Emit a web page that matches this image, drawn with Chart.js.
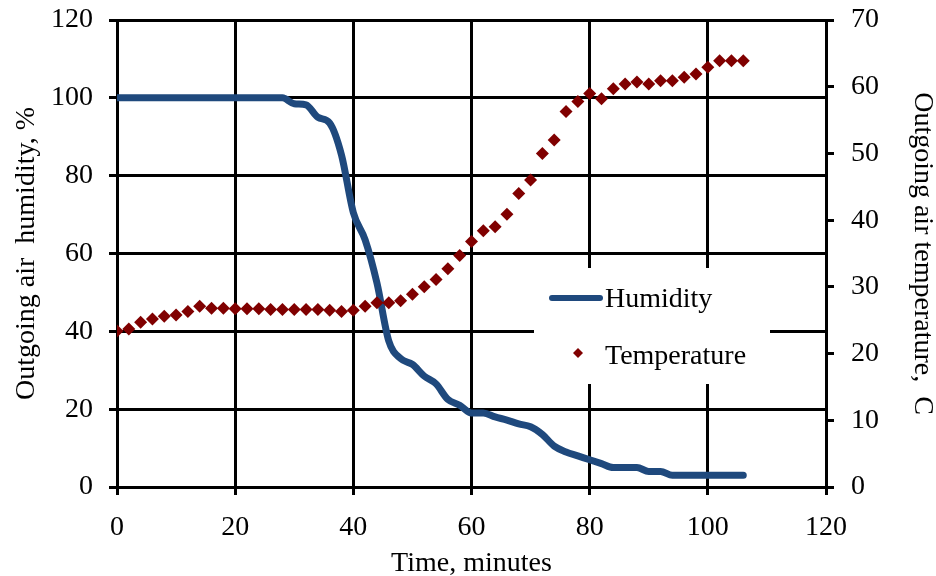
<!DOCTYPE html>
<html>
<head>
<meta charset="utf-8">
<script src="https://cdn.jsdelivr.net/npm/chart.js@4/dist/chart.umd.min.js"></script>
<style>
    body { margin: 0; background: #fff; }
    #wrap { width: 936px; height: 576px; }
</style>
</head>
<body>
<div id="wrap"><canvas id="dryChart" width="936" height="576"></canvas></div>
<script>
// Sampling times, minutes
const minutes = [
    0, 2, 4, 6, 8, 10, 12, 14, 16, 18, 20, 22, 24, 26, 28, 30, 32, 34,
    36, 38, 40, 42, 44, 46, 48, 50, 52, 54, 56, 58, 60, 62, 64, 66, 68, 70,
    72, 74, 76, 78, 80, 82, 84, 86, 88, 90, 92, 94, 96, 98, 100, 102, 104, 106
];

// Outgoing air humidity, %
const humidity = [
    100, 100, 100, 100, 100, 100, 100, 100, 100, 100, 100, 100, 100, 100, 100, 98.5, 98.2, 95,
    93.5, 85.3, 70.5, 63.5, 52.4, 37.5, 33, 31.5, 28.5, 26.5, 22.5, 21, 19, 19, 18, 17.2, 16.2, 15.5,
    13.5, 10.5, 9, 8, 7, 6, 5, 5, 5, 4, 4, 3, 3, 3, 3, 3, 3, 3
];

// Outgoing air temperature, C
const temperature = [
    23.4, 23.7, 24.7, 25.2, 25.6, 25.8, 26.3, 27.1, 26.8, 26.8, 26.7, 26.7, 26.7, 26.6, 26.6, 26.6, 26.6, 26.6,
    26.5, 26.3, 26.5, 27.1, 27.6, 27.6, 27.9, 28.9, 30.0, 31.1, 32.7, 34.7, 36.8, 38.4, 39.0, 40.9, 44.0, 46.0,
    50.0, 52.0, 56.3, 57.8, 59.0, 58.2, 59.7, 60.4, 60.7, 60.4, 60.9, 60.9, 61.4, 61.9, 62.9, 63.9, 63.9, 63.9
];

const xTicks = [0, 20, 40, 60, 80, 100, 120];
const humidityTicks = [0, 20, 40, 60, 80, 100, 120];
const temperatureTicks = [0, 10, 20, 30, 40, 50, 60, 70];

const FONT = "'Liberation Serif', 'Times New Roman', serif";

// Legend drawn inside the plot, on a white box over the grid
const innerLegend = {
    id: 'innerLegend',
    beforeDatasetsDraw(chart) {
        const ctx = chart.ctx;
        const sets = chart.data.datasets;
        ctx.save();
        ctx.fillStyle = '#fff';
        ctx.fillRect(534, 268, 236, 116);

        ctx.font = '28px ' + FONT;
        ctx.fillStyle = '#000';
        ctx.textBaseline = 'middle';

        // Humidity line sample
        ctx.strokeStyle = sets[0].borderColor;
        ctx.lineWidth = 6;
        ctx.lineCap = 'round';
        ctx.beginPath();
        ctx.moveTo(552, 298);
        ctx.lineTo(600, 298);
        ctx.stroke();
        ctx.fillText(sets[0].label, 605, 300);

        // Temperature diamond
        ctx.fillStyle = sets[1].backgroundColor;
        ctx.beginPath();
        ctx.moveTo(578, 348);
        ctx.lineTo(583, 353);
        ctx.lineTo(578, 358);
        ctx.lineTo(573, 353);
        ctx.closePath();
        ctx.fill();
        ctx.fillStyle = '#000';
        ctx.fillText(sets[1].label, 605, 357);
        ctx.restore();
    }
};

// Fixed axis sizes so the plot area sits where the original has it
function fitVertical(width) {
    return (scale) => {
        scale.width = width;
        scale.paddingTop = 0;
        scale.paddingBottom = 0;
    };
}

const ctx = document.getElementById('dryChart');

new Chart(ctx, {
    type: 'line',
    data: {
        datasets: [
            {
                label: 'Humidity',
                data: minutes.map((m, i) => ({ x: m, y: humidity[i] })),
                borderColor: '#1F497D',
                backgroundColor: '#1F497D',
                borderWidth: 7,
                borderCapStyle: 'round',
                borderJoinStyle: 'round',
                pointRadius: 0,
                cubicInterpolationMode: 'monotone',
                yAxisID: 'y',
                order: 1
            },
            {
                label: 'Temperature',
                data: minutes.map((m, i) => ({ x: m, y: temperature[i] })),
                showLine: false,
                borderColor: '#800000',
                backgroundColor: '#800000',
                pointStyle: 'rectRot',
                pointRadius: 6.5,
                pointBorderWidth: 0,
                yAxisID: 'y1',
                order: 0
            }
        ]
    },
    options: {
        responsive: false,
        animation: false,
        layout: { padding: { top: 20, left: 0, right: 0, bottom: 0 } },
        plugins: {
            legend: { display: false },
            tooltip: { enabled: false }
        },
        scales: {
            x: {
                type: 'linear',
                min: 0,
                max: 120,
                afterBuildTicks: (scale) => { scale.ticks = xTicks.map(v => ({ value: v })); },
                afterFit: (scale) => {
                    scale.height = 89;
                    scale.paddingLeft = 0;
                    scale.paddingRight = 0;
                },
                grid: { color: '#000', lineWidth: 3, tickLength: 8, tickColor: '#000' },
                border: { color: '#000', width: 3 },
                ticks: { color: '#000', font: { family: FONT, size: 28 }, padding: 16, maxRotation: 0 },
                title: {
                    display: true,
                    text: 'Time, minutes',
                    color: '#000',
                    font: { family: FONT, size: 28, lineHeight: 1 },
                    padding: { top: 0, bottom: -2 }
                }
            },
            y: {
                position: 'left',
                min: 0,
                max: 120,
                afterBuildTicks: (scale) => { scale.ticks = humidityTicks.map(v => ({ value: v })); },
                afterFit: fitVertical(117),
                grid: { color: '#000', lineWidth: 3, tickLength: 8, tickColor: '#000' },
                border: { color: '#000', width: 3 },
                ticks: { color: '#000', font: { family: FONT, size: 28 }, padding: 16 },
                title: {
                    display: true,
                    text: 'Outgoing air  humidity, %',
                    color: '#000',
                    font: { family: FONT, size: 28, lineHeight: 1 },
                    padding: { top: 13, bottom: 0 }
                }
            },
            y1: {
                position: 'right',
                min: 0,
                max: 70,
                afterBuildTicks: (scale) => { scale.ticks = temperatureTicks.map(v => ({ value: v })); },
                afterFit: fitVertical(110),
                grid: { drawOnChartArea: false, color: '#000', lineWidth: 3, tickLength: 8, tickColor: '#000' },
                border: { color: '#000', width: 3 },
                ticks: { color: '#000', font: { family: FONT, size: 28 }, padding: 17 },
                title: {
                    display: true,
                    text: 'Outgoing air temperature,  C',
                    color: '#000',
                    font: { family: FONT, size: 28, lineHeight: 1 },
                    padding: { top: 0, bottom: 0 }
                }
            }
        }
    },
    plugins: [innerLegend]
});
</script>
</body>
</html>
